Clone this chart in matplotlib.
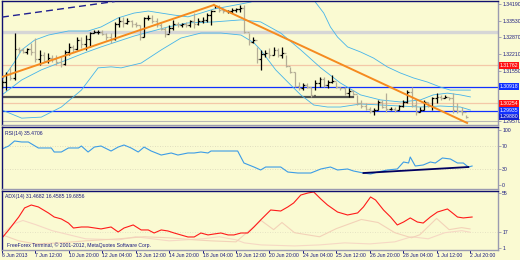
import matplotlib
matplotlib.use("Agg")
import matplotlib.pyplot as plt
from matplotlib.collections import LineCollection

W, H = 520, 260
BG = "#fafad2"
NAVY = "#1a1a80"
GRID = "#9a9ab0"
FS = 3.7

plt.rcParams["font.family"] = ["Liberation Sans", "DejaVu Sans"]

# ---- EURUSD H4 bars ----
first_open = 1.3100
highs = [1.3118, 1.3150, 1.3169, 1.3304, 1.3249, 1.3245, 1.3245, 1.3265, 1.3284, 1.3237,
         1.3229, 1.3225, 1.3217, 1.3217, 1.3209, 1.3237, 1.3265, 1.3257, 1.3288, 1.3288,
         1.3296, 1.3308, 1.3316, 1.3316, 1.3316, 1.3304, 1.3304, 1.3348, 1.3368, 1.3368,
         1.3364, 1.3356, 1.3348, 1.3336, 1.3368, 1.3375, 1.3375, 1.3364, 1.3344, 1.3328,
         1.3336, 1.3356, 1.3348, 1.3344, 1.3348, 1.3356, 1.3383, 1.3364, 1.3368, 1.3383,
         1.3395, 1.3415, 1.3415, 1.3403, 1.3395, 1.3403, 1.3403, 1.3415, 1.3415, 1.3304,
         1.3288, 1.3249, 1.3237, 1.3237, 1.3245, 1.3249, 1.3245, 1.3249, 1.3217, 1.3169,
         1.3150, 1.3110, 1.3106, 1.3106, 1.3090, 1.3118, 1.3130, 1.3130, 1.3118, 1.3138,
         1.3110, 1.3090, 1.3090, 1.3086, 1.3078, 1.3059, 1.3039, 1.3027, 1.3011, 1.3007,
         1.3039, 1.3039, 1.3066, 1.3011, 1.3011, 1.3019, 1.3039, 1.3078, 1.3090, 1.3039,
         1.3011, 1.3039, 1.3031, 1.3051, 1.3066, 1.3059, 1.3059, 1.3051, 1.3066, 1.3027,
         1.3011, 1.2979]
lows = [1.3086, 1.3078, 1.3118, 1.3118, 1.3225, 1.3225, 1.3221, 1.3217, 1.3189, 1.3177,
        1.3189, 1.3185, 1.3189, 1.3177, 1.3169, 1.3177, 1.3217, 1.3229, 1.3237, 1.3245,
        1.3237, 1.3249, 1.3304, 1.3300, 1.3296, 1.3276, 1.3265, 1.3276, 1.3328, 1.3328,
        1.3340, 1.3328, 1.3328, 1.3276, 1.3288, 1.3356, 1.3344, 1.3328, 1.3316, 1.3288,
        1.3304, 1.3316, 1.3328, 1.3328, 1.3328, 1.3328, 1.3324, 1.3336, 1.3344, 1.3348,
        1.3336, 1.3403, 1.3387, 1.3383, 1.3383, 1.3383, 1.3387, 1.3387, 1.3304, 1.3257,
        1.3265, 1.3185, 1.3158, 1.3209, 1.3205, 1.3217, 1.3209, 1.3205, 1.3169, 1.3146,
        1.3090, 1.3078, 1.3078, 1.3086, 1.3051, 1.3078, 1.3090, 1.3090, 1.3086, 1.3106,
        1.3086, 1.3078, 1.3059, 1.3051, 1.3059, 1.3019, 1.3007, 1.2999, 1.2987, 1.2979,
        1.2999, 1.3007, 1.2991, 1.2999, 1.2991, 1.2999, 1.3011, 1.3027, 1.3011, 1.2979,
        1.2991, 1.2999, 1.3011, 1.2999, 1.3027, 1.3039, 1.3047, 1.3039, 1.2987, 1.2987,
        1.2979, 1.2967]
closes = [1.3110, 1.3140, 1.3125, 1.3240, 1.3235, 1.3230, 1.3240, 1.3230, 1.3200, 1.3215,
          1.3195, 1.3205, 1.3200, 1.3190, 1.3180, 1.3230, 1.3250, 1.3240, 1.3275, 1.3260,
          1.3280, 1.3305, 1.3308, 1.3310, 1.3300, 1.3290, 1.3280, 1.3340, 1.3350, 1.3345,
          1.3350, 1.3340, 1.3335, 1.3290, 1.3365, 1.3365, 1.3350, 1.3335, 1.3320, 1.3300,
          1.3325, 1.3340, 1.3335, 1.3340, 1.3335, 1.3350, 1.3340, 1.3350, 1.3355, 1.3375,
          1.3390, 1.3410, 1.3395, 1.3390, 1.3390, 1.3395, 1.3400, 1.3405, 1.3310, 1.3270,
          1.3275, 1.3200, 1.3220, 1.3225, 1.3215, 1.3235, 1.3215, 1.3225, 1.3175, 1.3150,
          1.3095, 1.3085, 1.3100, 1.3090, 1.3060, 1.3105, 1.3120, 1.3100, 1.3110, 1.3115,
          1.3090, 1.3085, 1.3065, 1.3075, 1.3062, 1.3025, 1.3015, 1.3005, 1.2995, 1.3000,
          1.3030, 1.3010, 1.3005, 1.3005, 1.3000, 1.3015, 1.3030, 1.3070, 1.3020, 1.2990,
          1.3000, 1.3030, 1.3015, 1.3045, 1.3050, 1.3045, 1.3050, 1.3045, 1.3000, 1.2995,
          1.2990, 1.2972]

time_ticks = [0, 8, 16, 24, 32, 40, 48, 56, 64, 72, 80, 88, 96, 104, 112]
time_labels = ["6 Jun 2013", "7 Jun 12:00", "10 Jun 20:00", "12 Jun 04:00", "13 Jun 12:00",
               "14 Jun 20:00", "18 Jun 04:00", "19 Jun 12:00", "20 Jun 20:00", "24 Jun 04:00",
               "25 Jun 12:00", "26 Jun 20:00", "28 Jun 04:00", "1 Jul 12:00", "2 Jul 20:00"]

# Bollinger bands (bar index, price)
bb_up_x = [0, 3.0, 4.7, 7.8, 11.1, 15.9, 20.6, 23.7, 27.8, 31.6, 35.0, 41.2, 44.5, 47.6,
           50.7, 57.2, 59.6, 64.3, 71.5, 74.6, 77.0, 78.6, 80.3, 82.7, 85.8, 88.9, 92.2,
           95.3, 98.5, 101.8, 104.9, 107.3, 109.7, 112.1]
bb_up = [1.3118, 1.3189, 1.3237, 1.3276, 1.3296, 1.3312, 1.3312, 1.3328, 1.3364, 1.3383,
         1.3391, 1.3375, 1.3368, 1.3383, 1.3399, 1.3419, 1.3427, 1.3474, 1.3482, 1.3435,
         1.3383, 1.3328, 1.3288, 1.3249, 1.3229, 1.3205, 1.3170, 1.3146, 1.3126, 1.3110,
         1.3090, 1.3078, 1.3078, 1.3078]
bb_mid_x = [0, 4.7, 9.4, 14.2, 19.7, 23.7, 31.6, 39.7, 44.5, 50.7, 57.2, 61.9, 66.7, 71.5,
            76.3, 81.0, 85.8, 90.6, 95.4, 100.1, 103.2, 106.6, 109.7, 112.1]
bb_mid = [1.3059, 1.3118, 1.3158, 1.3189, 1.3225, 1.3249, 1.3292, 1.3328, 1.3344, 1.3348,
          1.3356, 1.3348, 1.3304, 1.3237, 1.3166, 1.3106, 1.3059, 1.3039, 1.3031, 1.3039,
          1.3059, 1.3066, 1.3059, 1.3051]
bb_low_x = [0, 4.7, 9.4, 14.2, 19.0, 23.0, 26.1, 28.5, 33.3, 38.1, 42.8, 47.6, 52.4, 57.2,
            60.3, 61.9, 65.5, 69.1, 71.5, 74.6, 77.9, 81.0, 85.8, 90.6, 95.3, 100.1, 104.9,
            109.7, 112.1]
bb_low = [1.2999, 1.2967, 1.2971, 1.3011, 1.3078, 1.3166, 1.3170, 1.3166, 1.3185, 1.3237,
          1.3284, 1.3304, 1.3304, 1.3296, 1.3265, 1.3237, 1.3158, 1.3098, 1.3059, 1.3019,
          1.3011, 1.3011, 1.3023, 1.3019, 1.3015, 1.3011, 1.3015, 1.3011, 1.2999]

# trend lines (bar index, price)
up_trend_x, up_trend_y = [0, 50.7], [1.3130, 1.3415]
down_trend_x, down_trend_y = [50.7, 111.3], [1.3415, 1.2948]
channel_x, channel_y = [0, 27], [1.3367, 1.3429]
support_x, support_y = [0, 84], [1.3051, 1.3051]

# horizontal levels
level_red = [1.31762, 1.30254]
level_blue = [1.30918, 1.29935]
extra_blue_label = 1.29880
gray_band = 1.3310
gray_level = 1.2957

# axis scale ticks; the ones under the price boxes stay unlabelled, as in the terminal
price_ticks = [1.3419, 1.3353, 1.3287, 1.3221, 1.3155, 1.3089, 1.3023, 1.2957]
hidden_ticks = [1.3089, 1.3023]

# RSI(14)
rsi_x = [0, 1.6, 3.0, 4.7, 6.3, 8.7, 11.8, 12.5, 14.2, 15.9, 18.3, 19.0, 20.6, 22.1, 23.7,
         26.1, 27.8, 29.2, 30.9, 32.6, 34.0, 35.7, 38.1, 40.5, 42.1, 44.5, 46.0, 47.6, 49.3,
         50.0, 52.4, 56.4, 57.9, 60.3, 61.9, 63.1, 65.0, 66.7, 68.4, 70.8, 73.9, 76.3, 78.6,
         80.3, 82.7, 84.1, 86.5, 88.2, 89.9, 92.2, 94.6, 96.1, 97.3, 97.7, 98.9, 100.8, 102.5,
         103.7, 105.4, 107.3, 109.0, 110.4, 111.6, 112.5]
rsi = [65.5, 70.9, 80.0, 78.2, 78.2, 67.3, 67.3, 60.0, 60.0, 67.3, 67.3, 70.9, 60.0, 69.0, 70.9,
       61.8, 69.0, 72.7, 67.3, 60.0, 69.0, 61.8, 54.5, 58.2, 54.5, 58.2, 58.2, 60.0, 58.2,
       61.8, 61.8, 61.8, 40.0, 32.7, 27.3, 32.7, 32.7, 32.7, 23.6, 21.8, 21.8, 29.1, 32.7,
       27.3, 29.1, 25.5, 21.8, 20.0, 23.6, 27.3, 29.1, 41.8, 40.0, 50.9, 34.5, 36.4, 41.8,
       40.0, 49.1, 47.3, 40.0, 40.0, 32.7, 34.5]
rsi_trend_x, rsi_trend_y = [86.5, 111.6], [21.8, 32.7]

# ADX(14), +DI, -DI
adx_x = [0, 1.6, 4.0, 5.4, 7.0, 8.7, 11.1, 12.5, 14.2, 15.9, 17.1, 19.0, 20.6, 23.7, 26.1,
         27.8, 29.2, 31.4, 33.3, 35.0, 36.4, 38.1, 39.7, 41.2, 42.8, 44.5, 46.0, 47.6, 49.3,
         50.7, 52.4, 54.1, 55.5, 57.2, 58.8, 60.3, 61.9, 64.3, 66.7, 68.4, 69.8, 71.5, 73.2,
         74.6, 76.3, 77.9, 80.3, 82.7, 85.1, 86.5, 88.2, 89.4, 91.3, 93.0, 94.6, 96.1, 97.7,
         99.4, 100.8, 102.5, 104.2, 106.6, 107.8, 109.0, 110.4, 112.5]
adx = [10.8, 18.7, 31.4, 40.3, 43.2, 41.3, 35.4, 31.4, 29.5, 25.5, 20.6, 21.6, 21.6, 19.7,
       21.6, 16.7, 20.6, 23.6, 18.7, 18.7, 15.7, 18.7, 17.7, 15.7, 13.8, 11.8, 11.8, 15.7,
       13.8, 14.7, 15.7, 13.8, 13.8, 15.7, 15.7, 21.6, 28.5, 38.3, 37.3, 41.3, 45.2, 53.0,
       55.0, 56.0, 49.1, 43.2, 36.3, 33.4, 35.4, 41.3, 51.1, 48.1, 38.3, 31.4, 23.6, 26.5,
       30.5, 26.5, 25.5, 31.4, 36.3, 39.3, 35.4, 31.4, 30.5, 31.4]
pdi_x = [0, 3, 5, 8, 12, 16, 20, 28, 32, 36, 40, 48, 52, 56, 58, 62, 70, 76, 82, 88, 94,
         98, 102, 106, 110, 112]
pdi = [15, 25, 28, 24, 18, 14, 10, 9, 12, 10, 8, 10, 12, 9, 6, 4, 3, 4, 6, 5, 7, 12, 10,
       16, 18, 16.5]
mdi_x = [0, 4, 8, 14, 20, 28, 34, 40, 46, 50, 56, 58, 62, 65, 67, 70, 76, 80, 86, 90, 94,
         98, 100, 104, 107, 110, 112]
mdi = [14, 8, 5, 6, 8, 10, 12, 11, 9, 8, 7, 14, 28, 19, 26, 16, 12, 20, 29, 26, 16, 11, 14,
       30, 19, 21, 19.7]


def px_axes(fig, x0, y0, x1, y1):
    return fig.add_axes([x0 / W, 1 - y1 / H, (x1 - x0) / W, (y1 - y0) / H])


def style_axes(ax):
    ax.set_facecolor(BG)
    ax.set_xlim(0.0, 118.7)
    for side in ("right", "bottom"):
        ax.spines[side].set_color(GRID)
        ax.spines[side].set_linewidth(1.0)
    for side in ("left", "top"):
        ax.spines[side].set_color("#101070")
        ax.spines[side].set_linewidth(1.0)
    ax.yaxis.tick_right()
    ax.tick_params(axis="y", length=2, width=0.6, color=GRID, labelsize=FS,
                   labelcolor=NAVY, pad=1)
    ax.tick_params(axis="x", length=0, labelbottom=False)


fig = plt.figure(figsize=(W / 100, H / 100), dpi=100, facecolor=BG)

# ---------- price panel ----------
ax = px_axes(fig, 2, 1, 498, 125)
style_axes(ax)
ax.set_ylim(1.29398, 1.34308)
ax.set_yticks(price_ticks)
ax.set_yticklabels(["" if p in hidden_ticks else f"{p:.5f}" for p in price_ticks])

ax.axhline(gray_band, color="#d6d6d6", lw=2.4, zorder=1)
ax.axhline(gray_level, color="#b8b8b8", lw=0.8, zorder=1)
for lv in level_red:
    ax.axhline(lv, color="#f4c8a8", lw=0.9, zorder=1)
for lv in level_blue:
    ax.axhline(lv, color="#1030ff", lw=0.9, zorder=1)
ax.plot(support_x, support_y, color="#505050", lw=1.6, zorder=2)

for bx, by in ((bb_up_x, bb_up), (bb_mid_x, bb_mid), (bb_low_x, bb_low)):
    ax.plot(bx, by, color="#45b4ea", lw=0.6, zorder=2)

opens = [first_open] + closes[:-1]
segs, cols = [], []
for i, (o, h, l, c) in enumerate(zip(opens, highs, lows, closes)):
    col = "#000000" if c >= o else "#b4ad96"
    segs += [[(i, l), (i, h)], [(i - 0.45, o), (i, o)], [(i, c), (i + 0.45, c)]]
    cols += [col] * 3
ax.add_collection(LineCollection(segs, colors=cols, linewidths=0.9, zorder=3))

ax.plot(up_trend_x, up_trend_y, color="#f58a1f", lw=1.4, zorder=4)
ax.plot(down_trend_x, down_trend_y, color="#f58a1f", lw=1.4, zorder=4)
ax.plot(channel_x, channel_y, color="#202090", lw=1.0, dashes=(5, 3), zorder=4)

tr = ax.get_yaxis_transform()
box_kw = dict(boxstyle="square,pad=0.15", ec="none")


def price_box(value, color, dy=0):
    ax.annotate(f"{value:.5f}", xy=(1, value), xycoords=tr, xytext=(2, dy),
                textcoords="offset pixels", va="center", ha="left", fontsize=FS,
                color="white", bbox=dict(fc=color, **box_kw), annotation_clip=False)


for lv in level_red:
    price_box(lv, "#ff1010")
price_box(level_blue[0], "#1030ff")
price_box(level_blue[1], "#1030ff", dy=1)
price_box(extra_blue_label, "#1020d0", dy=-4)

# ---------- RSI panel ----------
ax2 = px_axes(fig, 2, 127, 498, 189)
style_axes(ax2)
ax2.set_ylim(-7.27, 105.45)
ax2.set_yticks([100, 70, 30, 0])
ax2.set_yticklabels(["100", "70", "30", "0"])
for lv in (70, 30):
    ax2.axhline(lv, color="#d8d4b8", lw=0.6, ls=(0, (1, 2)))
ax2.plot(rsi_x, rsi, color="#3c9ce6", lw=0.8)
ax2.plot(rsi_trend_x, rsi_trend_y, color="#000060", lw=1.3)
ax2.text(0.006, 0.93, "RSI(14) 35.4706", transform=ax2.transAxes, fontsize=FS,
         color=NAVY, va="top", ha="left")

# ---------- ADX panel ----------
ax3 = px_axes(fig, 2, 191, 498, 250)
style_axes(ax3)
ax3.set_ylim(-1.0, 56.96)
ax3.set_yticks([55, 17, 1])
ax3.set_yticklabels(["55", "17", "1"])
ax3.axhline(17, color="#e0dcc0", lw=0.6, ls=(0, (1, 2)))
ax3.plot(pdi_x, pdi, color="#f6d8c4", lw=0.8)
ax3.plot(mdi_x, mdi, color="#f3d2b8", lw=0.8)
ax3.plot(adx_x, adx, color="#ff1a1a", lw=0.8)
ax3.text(0.006, 0.95, "ADX(14) 31.4682 16.4585 19.6856", transform=ax3.transAxes,
         fontsize=FS, color=NAVY, va="top", ha="left")
ax3.text(0.01, 0.04, "FreeForex Terminal, \u00a9 2001-2012, MetaQuotes Software Corp.",
         transform=ax3.transAxes, fontsize=FS, color=NAVY, va="bottom", ha="left")

ax3.set_xticks(time_ticks)
ax3.set_xticklabels(time_labels)
ax3.tick_params(axis="x", length=2, width=0.7, color=NAVY, labelsize=FS,
                labelcolor=NAVY, pad=0, labelbottom=True, direction="out")
for lab in ax3.get_xticklabels():
    lab.set_ha("left")

fig.savefig("out.png", dpi=100, facecolor=BG)
